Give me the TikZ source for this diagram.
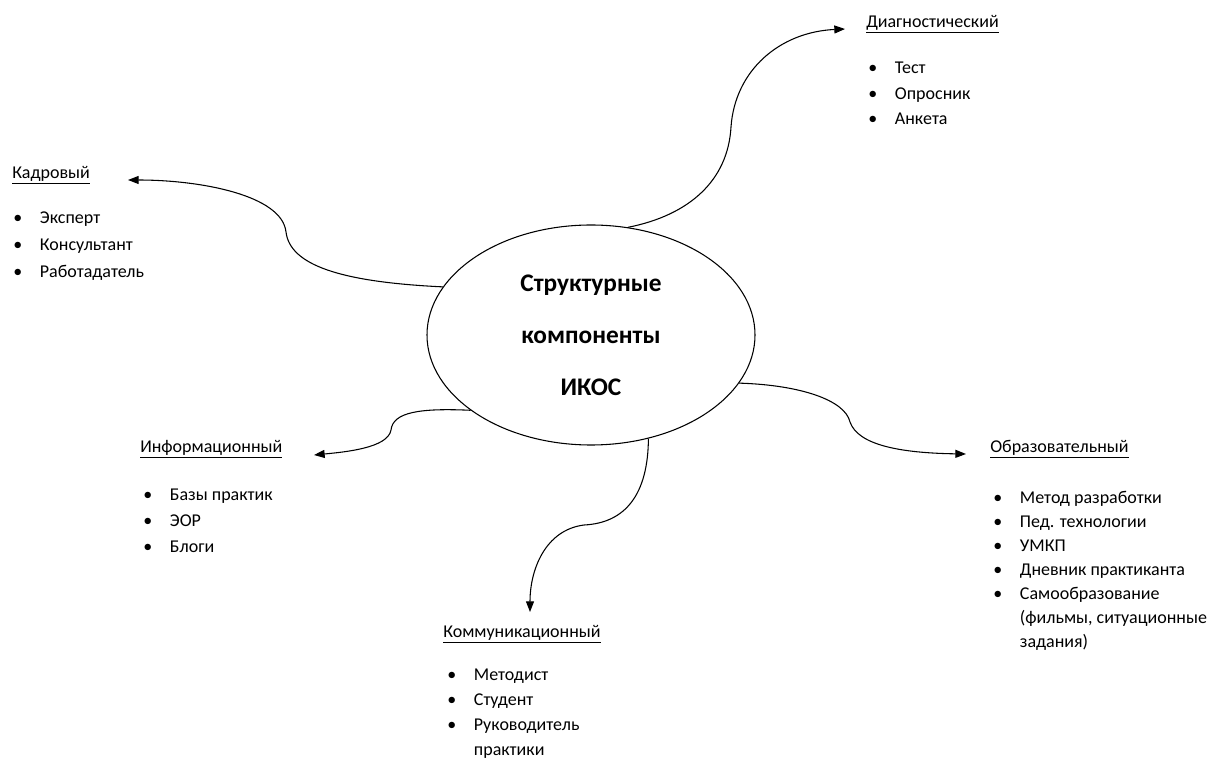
\documentclass[tikz,border=0pt]{standalone}
\usepackage{fontspec}
\setmainfont{Carlito}
\usetikzlibrary{shapes.geometric,arrows.meta}
\newcommand{\itm}[1]{\makebox[20pt][l]{\textbullet}#1}
\tikzset{
  hub/.style={ellipse,draw,line width=0.8pt,minimum width=246pt,minimum height=165pt,inner sep=0pt,
    align=center,font=\fontsize{19}{39}\selectfont\bfseries},
  heading/.style={anchor=west,inner sep=0pt,font=\fontsize{13.5}{15}\selectfont},
  items/.style={anchor=north west,inner sep=0pt,align=left,font=\fontsize{13.5}{19.5}\selectfont},
  link/.style={line width=0.8pt,-{Triangle[length=8pt,width=6pt]}}
}
\begin{document}
\begin{tikzpicture}[x=0.75pt,y=-0.75pt]
\useasboundingbox (0,0) rectangle (1217,762);
\node[hub] (ikos) at (591,335) {Структурные\\компоненты\\ИКОС};
% headings
\node[heading] (kadr) at (12,175) {\underline{Кадровый}};
\node[heading] (diag) at (866,24) {\underline{Диагностический}};
\node[heading] (inform) at (140,449) {\underline{Информационный}};
\node[heading] (komm) at (443,634) {\underline{Коммуникационный}};
\node[heading] (obraz) at (990,449) {\underline{Образовательный}};
% lists
\node[items,font=\fontsize{13.5}{20}\selectfont] (kadrlist) at (13,212) {\itm{Эксперт}\\\itm{Консультант}\\\itm{Работадатель}};
\node[items,font=\fontsize{13.5}{19}\selectfont] (diaglist) at (868,62) {\itm{Тест}\\\itm{Опросник}\\\itm{Анкета}};
\node[items] (informlist) at (143,489) {\itm{Базы практик}\\\itm{ЭОР}\\\itm{Блоги}};
\node[items,font=\fontsize{13.5}{18.6}\selectfont] (kommlist) at (447,669) {\itm{Методист}\\\itm{Студент}\\\itm{Руководитель}\\\hspace*{20pt}практики};
\node[items,font=\fontsize{13.5}{18}\selectfont] (obrazlist) at (993,491) {\itm{Метод разработки}\\\itm{Пед. технологии}\\\itm{УМКП}\\\itm{Дневник практиканта}\\\itm{Самообразование}\\\hspace*{20pt}(фильмы, ситуационные\\\hspace*{20pt}задания)};
% arrow tips
\coordinate (kadrtip) at (128,180);
\coordinate (diagtip) at (845,29);
\coordinate (informtip) at (314,455);
\coordinate (kommtip) at (530,612);
\coordinate (obraztip) at (966,454);
% connectors
\draw[link] (ikos.162) .. controls (340,282) and (290,265) .. (286,232) .. controls (282,195) and (200,180) .. (kadrtip);
\draw[link] (ikos.71) .. controls (690,215) and (728,180) .. (731,127) .. controls (735,70) and (780,32) .. (diagtip);
\draw[link] (ikos.212) .. controls (420,408) and (393,412) .. (391,430) .. controls (388,448) and (345,452) .. (informtip);
\draw[link] (ikos.299) .. controls (648,495) and (625,523) .. (584,525) .. controls (545,530) and (530,570) .. (kommtip);
\draw[link] (ikos.342) .. controls (800,385) and (845,400) .. (850,422) .. controls (858,445) and (900,453) .. (obraztip);
\end{tikzpicture}
\end{document}
